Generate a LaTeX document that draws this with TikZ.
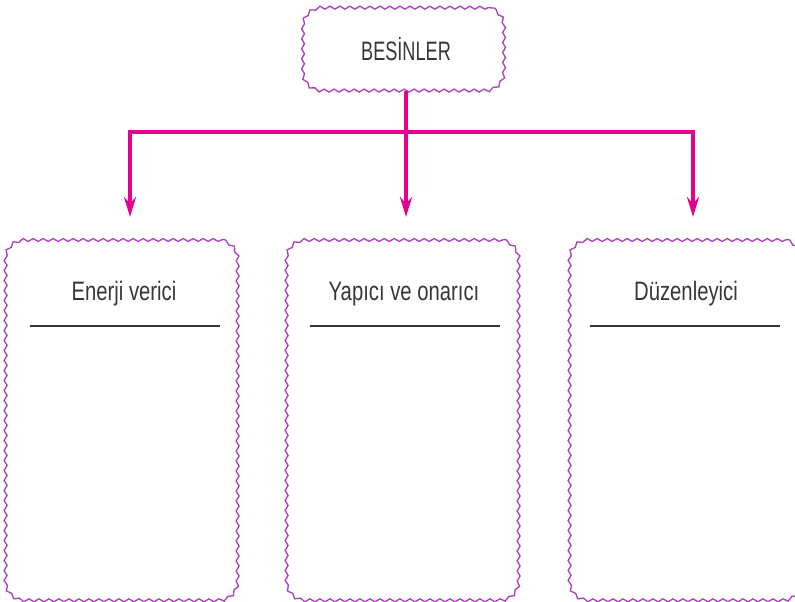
\documentclass[tikz,border=0pt]{standalone}
\usepackage{fontspec}
\newfontfamily\besinfont[FakeStretch=0.76]{Liberation Sans}
\newfontfamily\headfont[FakeStretch=0.68]{Liberation Sans}
\usetikzlibrary{decorations.pathmorphing}
\usetikzlibrary{arrows.meta}
\usetikzlibrary{calc}

\definecolor{wavepurple}{RGB}{170,65,190}
\definecolor{linkpink}{RGB}{230,0,140}
\definecolor{textgray}{RGB}{55,55,55}

\tikzset{
  pinktip/.tip={Stealth[length=15pt,width=9pt,inset=5pt]},
  wavybox/.style={rounded corners=14pt, inner sep=0pt,
    postaction={draw=wavepurple, line width=1pt, sharp corners,
      decorate, decoration={snake, segment length=7.5pt, amplitude=1.1pt}}},
  groupbox/.style={wavybox, minimum width=174pt, minimum height=270pt},
  title/.style={font=\besinfont\fontsize{20}{24}\selectfont, text=textgray},
  link/.style={draw=linkpink, line width=2.6pt, -pinktip},
  rule/.style={draw=textgray, line width=1.5pt}
}

\begin{document}
\begin{tikzpicture}[x=0.75pt,y=-0.75pt]
\useasboundingbox (0,0) rectangle (795,602);

% top box
\node[wavybox, title, font=\headfont\fontsize{20}{24}\selectfont,
  minimum width=151pt, minimum height=62pt] (top) at (406,49) {BESİNLER};

% groups
\node[groupbox] (b1) at (124,420) {};
\node[groupbox] (b2) at (405,420) {};
\node[groupbox] (b3) at (688,420) {};

\node[title, anchor=base] (t1) at (124,300) {Enerji verici};
\node[title, anchor=base] (t2) at (404,300) {Yapıcı ve onarıcı};
\node[title, anchor=base] (t3) at (686,300) {Düzenleyici};

\draw[rule] ($(b1.north west)+(22,86)$) -- ++(190,0);
\draw[rule] ($(b2.north west)+(21,86)$) -- ++(190,0);
\draw[rule] ($(b3.north west)+(18,86)$) -- ++(190,0);

% arrows
\coordinate (bar) at (406,132);
\coordinate (a1) at (130,217);
\coordinate (a2) at (406,217);
\coordinate (a3) at (693,217);
\draw[link] (top.south) -- (a2);
\draw[link, pinktip-pinktip] (a1) -- (a1 |- bar) -- (a3 |- bar) -- (a3);

\end{tikzpicture}
\end{document}
